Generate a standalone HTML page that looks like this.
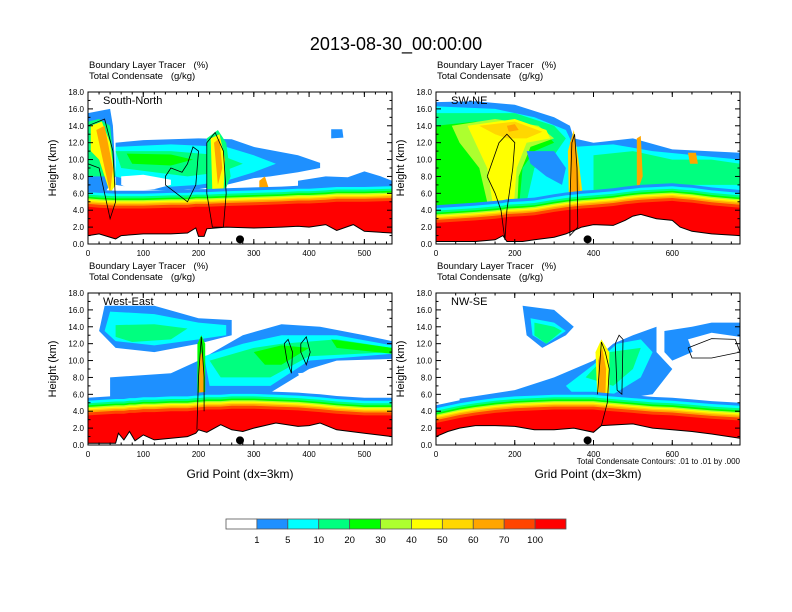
<!DOCTYPE html>
<html><head><meta charset="utf-8"><style>
body{margin:0;background:#fff}
svg{display:block;font-family:"Liberation Sans",Arial,sans-serif}
text{white-space:pre}
</style></head><body>
<svg id="chart" width="792" height="612" viewBox="0 0 792 612">
<rect width="792" height="612" fill="#fff"/>
<text x="396" y="50" font-size="18" text-anchor="middle">2013-08-30_00:00:00</text>
<g id="panels"></g>
<g id="colorbar"></g>
</svg>
<script>
// ---- data ----
const levelColors = ["#ffffff","#1e90ff","#00ffff","#00ff7f","#00ff00","#adff2f","#ffff00","#ffd700","#ffa500","#ff4500","#ff0000"];
const levelLabels = ["1","5","10","20","30","40","50","60","70","100"];
const bandOffsets = [2.1,1.75,1.45,1.2,1.0,0.85,0.7,0.55,0.35,0]; // km above PBL top for levels 1..10

const p1X = [0,20,50,60,100,150,180,195,200,210,215,250,300,350,380,400,430,450,480,500,550];
const p1Terrain = [1.0,1.2,0.6,1.0,1.2,1.2,1.3,1.9,0.9,0.9,1.8,2.0,1.9,2.0,2.1,2.0,2.3,1.6,2.3,1.5,1.3];
const p1Pbl = [4.4,4.3,4.2,4.2,4.2,4.3,4.3,4.4,4.4,4.4,4.4,4.5,4.6,4.7,4.8,4.8,4.9,5.0,5.0,5.0,5.1];
const p1Clouds = [
 [1,[[50,12],[100,12.3],[150,12.4],[200,12.5],[260,12.4],[300,11.5],[380,10.5],[420,9.6],[420,9.0],[380,8.5],[330,8.0],[300,7.8],[250,7.0],[200,6.5],[150,6.3],[100,6.5],[50,7]]],
 [2,[[50,11.5],[150,11.8],[250,11.5],[300,10.5],[340,9.5],[300,8.5],[250,7.5],[200,7],[150,6.8],[100,7],[50,8]]],
 [3,[[50,11],[150,11],[240,10.5],[280,9.5],[240,8.5],[180,8],[120,8.5],[60,9]]],
 [4,[[70,10.7],[150,10.6],[190,10],[150,9.3],[80,9.5]]],
 [0,[[60,8],[100,8.2],[150,7.6],[150,7],[120,6.5],[80,6.4],[60,7]]],
 [1,[[380,7.5],[430,8.0],[470,7.9],[500,8.6],[530,8],[550,7.5],[550,6.5],[380,6.5]]],
 [1,[[440,13.6],[460,13.6],[462,12.6],[440,12.5]]],
 [1,[[0,15.5],[40,16],[45,14],[50,8],[30,6],[0,6]]],
 [3,[[0,14.5],[20,14.8],[40,14],[50,8],[0,8]]],
 [6,[[5,14],[25,14.5],[40,12],[50,7],[40,6],[20,10],[5,11]]],
 [8,[[15,13.5],[30,14],[45,9],[40,6],[30,9]]],
 [3,[[215,12.5],[235,13.5],[250,12],[258,8],[240,5],[215,6]]],
 [6,[[222,12.5],[238,13],[248,10],[245,6],[225,6]]],
 [8,[[228,12],[238,12.5],[243,9],[235,7]]],
 [8,[[310,7.5],[320,8],[330,6],[310,5]]]
];
const p1Contours = [
 [[140,8],[150,9],[170,8.5],[180,9.5],[190,11.5],[200,11],[195,7],[180,5],[160,6],[140,7],[140,8]],
 [[0,14],[30,14.8],[45,11],[50,5],[40,3],[30,6],[20,9],[0,9.5]],
 [[215,12],[230,13.2],[245,11],[250,6],[245,2],[225,2],[215,6],[215,12]]
];
const p2X = [0,100,150,170,180,220,250,300,330,350,370,400,450,480,500,520,560,600,620,650,700,772];
const p2Terrain = [0.3,0.3,0.5,1.0,0.3,0.3,0.5,0.8,1.2,1.6,2.0,2.3,2.2,2.8,3.3,3.5,3.0,2.8,2.0,1.5,1.2,1.0];
const p2Pbl = [2.5,2.8,3.0,3.1,3.2,3.3,3.4,3.8,4.0,4.1,4.2,4.3,4.5,4.7,4.8,4.9,5.0,5.1,5.0,4.9,4.6,4.3];
const p2Clouds = [
 [1,[[0,16.8],[100,16.9],[200,16.5],[300,15],[340,14],[350,12.5],[400,12],[500,12.5],[600,11.2],[772,10.8],[772,5],[0,5]]],
 [2,[[0,16.3],[150,16],[250,15],[330,13.5],[350,11.5],[450,11.8],[550,11],[772,10],[772,5],[0,5]]],
 [3,[[0,15.5],[200,15.5],[300,14],[330,12.5],[300,10.5],[250,9],[230,5],[0,4]]],
 [4,[[0,14],[100,14.5],[200,14],[280,13],[300,12],[250,11],[220,9],[210,4],[0,4]]],
 [5,[[40,14],[150,14.8],[260,14],[300,12.5],[240,11.5],[210,8],[205,3],[140,3],[110,9],[60,12]]],
 [6,[[80,14],[200,14.8],[280,13.5],[290,12.5],[230,12],[205,9],[195,3],[150,3],[130,9],[100,12]]],
 [7,[[110,14],[200,14.5],[270,13.3],[230,12.5],[180,12.5],[150,13]]],
 [8,[[180,14],[200,14.2],[210,13.5],[185,13.3]]],
 [1,[[230,11],[300,11],[330,9],[320,7],[280,8],[240,9.5]]],
 [3,[[400,10.5],[500,11],[600,10],[700,10],[772,9.5],[772,7],[600,7],[400,6]]],
 [7,[[335,11],[350,13.5],[362,10],[372,6],[338,4]]],
 [8,[[340,12],[350,13],[358,10],[366,6],[342,4]]],
 [8,[[640,10.8],[660,10.8],[665,9.5],[645,9.5]]],
 [8,[[510,12.5],[520,12.8],[525,8],[510,6]]]
];
const p2Contours = [
 [[130,8],[160,12],[180,13],[200,12],[195,9],[180,4],[175,0.5],[165,4],[150,6],[130,8]],
 [[340,5],[345,12],[352,13],[358,9],[360,2],[340,1],[340,5]]
];
const p3X = [0,50,55,65,75,85,100,120,150,180,195,200,215,240,260,280,300,340,380,400,420,450,500,550];
const p3Terrain = [0.2,0.2,1.4,0.6,1.6,0.5,1.2,0.6,0.8,1.0,1.4,1.8,1.5,2.4,1.8,1.6,2.0,2.6,2.2,2.3,2.6,1.8,1.4,1.0];
const p3Pbl = [3.5,3.7,3.7,3.7,3.8,3.8,3.9,3.9,4.0,4.0,4.1,4.1,4.2,4.2,4.3,4.3,4.3,4.2,4.1,4.0,3.9,3.7,3.5,3.5];
const p3Clouds = [
 [1,[[30,16.5],[120,16.5],[200,15],[260,14.8],[260,13],[200,12],[120,11],[50,11.5],[20,13.5]]],
 [2,[[40,15.8],[120,15.5],[200,14.5],[250,14.2],[250,13],[200,12.5],[120,11.8],[50,12.3],[30,13.5]]],
 [3,[[50,14.2],[120,14.3],[180,13.8],[150,12.5],[80,12.2],[50,12.8]]],
 [1,[[40,8],[150,8.5],[200,10],[280,13],[350,14.3],[420,14],[500,13],[550,12.3],[550,10.2],[450,10],[400,9],[350,7],[300,5],[40,5]]],
 [0,[[380,8.5],[550,9.5],[550,5],[400,5.5]]],
 [2,[[210,10.5],[280,12],[350,13],[450,13],[550,11.8],[550,10.8],[400,10],[330,7],[220,7]]],
 [3,[[220,10],[300,11.5],[350,12],[450,12.5],[550,11.5],[550,11],[400,10.5],[330,8],[240,8]]],
 [4,[[300,11],[350,11.8],[400,11.5],[350,9.5],[320,9.5]]],
 [4,[[440,12.5],[550,11.5],[550,10.8],[450,11.5]]],
 [4,[[198,12],[205,13],[212,12],[212,4],[198,4]]],
 [8,[[201,10],[205,11],[209,10],[209,4],[201,4]]]
];
const p3Contours = [
 [[355,12],[362,12.5],[370,11],[368,8.5],[360,10],[355,12]],
 [[385,12],[395,12.8],[402,11],[395,9.5],[385,11],[385,12]],
 [[197,1.8],[200,8],[205,12.8],[210,8],[210,4]]
];
const p4X = [0,30,60,100,150,200,250,300,350,400,420,500,550,600,650,700,772];
const p4Terrain = [1.0,1.6,2.0,2.3,2.3,2.2,1.8,1.8,2.0,1.5,2.3,2.5,2.0,1.8,1.6,1.3,0.8];
const p4Pbl = [2.6,2.9,3.2,3.5,3.8,4.0,4.1,4.2,4.2,4.2,4.1,3.8,3.6,3.5,3.3,3.1,2.9];
const p4Clouds = [
 [1,[[220,16.5],[300,16],[350,14],[330,13],[270,11.5],[230,13]]],
 [2,[[240,15],[300,14.5],[330,13.5],[280,12],[245,13]]],
 [3,[[250,14.5],[300,14],[320,13.5],[280,12],[250,13]]],
 [1,[[60,5.5],[200,6.5],[300,8],[400,10],[450,12],[500,13],[560,14],[560,11],[600,9],[550,6],[400,5],[60,4.5]]],
 [2,[[330,7],[400,9.5],[460,12],[520,12.5],[550,11],[520,8],[450,6],[350,6]]],
 [3,[[380,8],[440,11],[520,11.5],[500,9],[450,7]]],
 [1,[[580,13.5],[650,14],[700,14.5],[772,14.5],[772,12],[700,12],[650,11],[600,10],[580,11]]],
 [0,[[640,12.5],[700,13.3],[772,12.8],[772,10.5],[700,10],[660,10]]],
 [6,[[405,11],[420,12.5],[440,11],[440,5],[410,5]]],
 [8,[[412,10],[422,11.5],[432,9],[430,5],[414,5]]]
];
const p4Contours = [
 [[410,6],[420,12.2],[430,11],[440,9],[435,5],[420,2.3]],
 [[455,12],[465,13],[475,12.5],[472,6],[460,6.5],[455,12]],
 [[640,11.5],[700,12.6],[760,12.5],[772,11],[700,10.3],[650,10.3],[640,11.5]]
];
const panels = [
 {name:"south-north",label:"South-North",x0:88,y0:92,xmax:550,xt:[0,100,200,300,400,500],xm:20,X:p1X,T:p1Terrain,P:p1Pbl,C:p1Clouds,L:p1Contours,dot:275,xlab:false},
 {name:"sw-ne",label:"SW-NE",x0:436,y0:92,xmax:772,xt:[0,200,400,600],xm:50,X:p2X,T:p2Terrain,P:p2Pbl,C:p2Clouds,L:p2Contours,dot:385,xlab:false},
 {name:"west-east",label:"West-East",x0:88,y0:293,xmax:550,xt:[0,100,200,300,400,500],xm:20,X:p3X,T:p3Terrain,P:p3Pbl,C:p3Clouds,L:p3Contours,dot:275,xlab:true},
 {name:"nw-se",label:"NW-SE",x0:436,y0:293,xmax:772,xt:[0,200,400,600],xm:50,X:p4X,T:p4Terrain,P:p4Pbl,C:p4Clouds,L:p4Contours,dot:385,xlab:true}
];
const yTicks = [0,2,4,6,8,10,12,14,16,18];
// ---- drawing ----
const NS="http://www.w3.org/2000/svg";
const W=304,H=152,ZMAX=18;
function mk(tag,attrs,parent){const e=document.createElementNS(NS,tag);for(const k in attrs)e.setAttribute(k,attrs[k]);parent.appendChild(e);return e;}
const root=document.getElementById("panels");
panels.forEach((p,pi)=>{
  const sx=x=>p.x0+x/p.xmax*W, sy=z=>p.y0+H-z/ZMAX*H;
  const g=mk("g",{},root);
  
  
  const cp=mk("clipPath",{id:"cp"+pi},g);
  mk("rect",{x:p.x0,y:p.y0,width:W,height:H},cp);
  const t1=mk("text",{x:p.x0+1,y:p.y0-24,"font-size":"9.5"},g);t1.textContent="Boundary Layer Tracer   (%)";
  
  
  const t2=mk("text",{x:p.x0+1,y:p.y0-13,"font-size":"9.5"},g);t2.textContent="Total Condensate   (g/kg)";
  
  
  const pg=mk("g",{"clip-path":"url(#cp"+pi+")"},g);
  p.C.forEach(c=>{
    const pts=c[1].map(q=>sx(q[0]).toFixed(1)+","+sy(q[1]).toFixed(1)).join(" ");
    const poly=mk("polygon",{points:pts,fill:levelColors[c[0]]},pg);
    
    
  });
  bandOffsets.forEach((off,k)=>{
    let d="M"+sx(p.X[0])+","+sy(p.T[0]);
    p.X.forEach((x,i)=>{d+=" L"+sx(x).toFixed(1)+","+sy(p.P[i]+off).toFixed(1);});
    for(let i=p.X.length-1;i>=0;i--)d+=" L"+sx(p.X[i]).toFixed(1)+","+sy(p.T[i]).toFixed(1);
    const band=mk("path",{d:d+"Z",fill:levelColors[k+1]},pg);
    
    
  });
  p.L.forEach(line=>{
    const d=line.map((q,i)=>(i?"L":"M")+sx(q[0]).toFixed(1)+","+sy(q[1]).toFixed(1)).join(" ");
    const cl=mk("path",{d:d,fill:"none",stroke:"#000","stroke-width":"0.8"},pg);
    
    
  });
  let td="";p.X.forEach((x,i)=>{td+=(i?" L":"M")+sx(x).toFixed(1)+","+sy(p.T[i]).toFixed(1);});
  const tl=mk("path",{d:td,fill:"none",stroke:"#000","stroke-width":"1"},pg);
  
  
  const dot=mk("circle",{cx:sx(p.dot),cy:sy(0.55),r:4,fill:"#000"},pg);
  
  
  const lb=mk("text",{x:p.x0+15,y:p.y0+12,"font-size":"11"},g);lb.textContent=p.label;
  
  
  const fr=mk("rect",{x:p.x0,y:p.y0,width:W,height:H,fill:"none",stroke:"#000","stroke-width":"1"},g);
  
  
  yTicks.forEach(z=>{
    const y=sy(z);
    mk("line",{x1:p.x0,x2:p.x0+5,y1:y,y2:y,stroke:"#000"},g);
    mk("line",{x1:p.x0+W,x2:p.x0+W-5,y1:y,y2:y,stroke:"#000"},g);
    const tt=mk("text",{x:p.x0-4,y:y+3,"font-size":"8","text-anchor":"end"},g);tt.textContent=z.toFixed(1);
    
    
    if(z<18){const ym=sy(z+1);mk("line",{x1:p.x0,x2:p.x0+2.5,y1:ym,y2:ym,stroke:"#000"},g);mk("line",{x1:p.x0+W,x2:p.x0+W-2.5,y1:ym,y2:ym,stroke:"#000"},g);}
  });
  for(let x=0;x<=p.xmax;x+=p.xm){const xx=sx(x);mk("line",{x1:xx,x2:xx,y1:p.y0+H,y2:p.y0+H-2.5,stroke:"#000"},g);mk("line",{x1:xx,x2:xx,y1:p.y0,y2:p.y0+2.5,stroke:"#000"},g);}
  p.xt.forEach(x=>{
    const xx=sx(x);
    mk("line",{x1:xx,x2:xx,y1:p.y0+H,y2:p.y0+H-5,stroke:"#000"},g);
    mk("line",{x1:xx,x2:xx,y1:p.y0,y2:p.y0+5,stroke:"#000"},g);
    const tt=mk("text",{x:xx,y:p.y0+H+12,"font-size":"8","text-anchor":"middle"},g);tt.textContent=x;
    
    
  });
  const yl=mk("text",{x:0,y:0,"font-size":"11","text-anchor":"middle",transform:"translate("+(p.x0-32)+","+(p.y0+H/2)+") rotate(-90)"},g);
  yl.textContent="Height (km)";
  
  
  if(p.xlab){
    const xl=mk("text",{x:p.x0+W/2,y:p.y0+H+33,"font-size":"12","text-anchor":"middle"},g);xl.textContent="Grid Point (dx=3km)";
    
    
  }
  if(pi===3){
    const ct=mk("text",{x:p.x0+W,y:p.y0+H+19,"font-size":"8","text-anchor":"end"},g);ct.textContent="Total Condensate Contours: .01 to .01 by .000";
    
    
  }
});
const cb=document.getElementById("colorbar");
const bw=(566-226)/11;
levelColors.forEach((c,i)=>{
  const r=mk("rect",{x:226+i*bw,y:519,width:bw,height:10,fill:c,stroke:"#555","stroke-width":"0.8"},cb);
  
  
});
levelLabels.forEach((l,i)=>{
  const t=mk("text",{x:226+(i+1)*bw,y:543,"font-size":"9.5","text-anchor":"middle"},cb);t.textContent=l;
  
  
});
</script>
</body></html>
